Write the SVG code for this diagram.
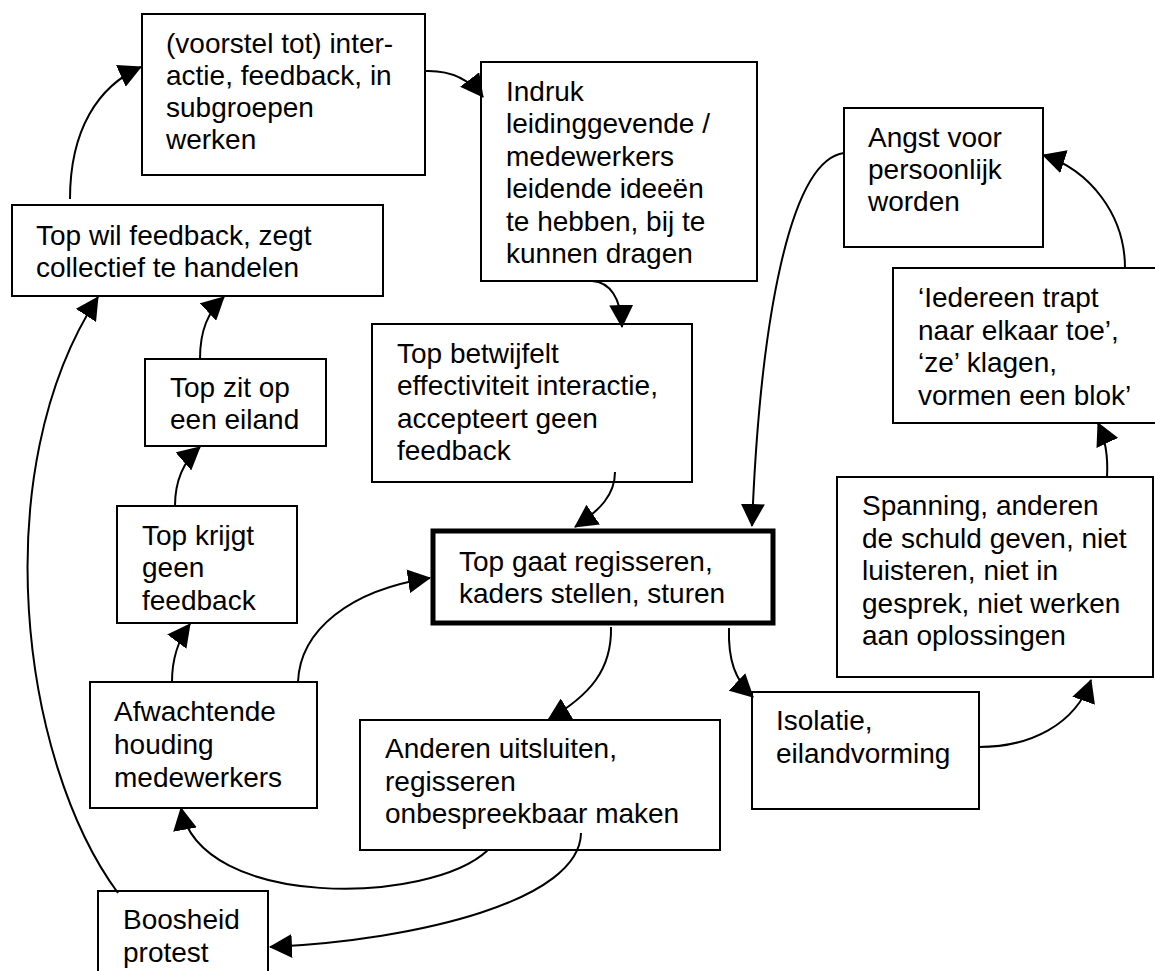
<svg xmlns="http://www.w3.org/2000/svg" width="1155" height="971" viewBox="0 0 1155 971">
<style>
.box{fill:#fff;stroke:#000;stroke-width:2}
.main{fill:#fff;stroke:#000;stroke-width:5}
.t{font-family:"Liberation Sans",Arial,Helvetica,sans-serif;font-size:28px;fill:#000}
.c{fill:none;stroke:#000;stroke-width:2;marker-end:url(#ah)}
</style>
<defs>
<marker id="ah" markerUnits="userSpaceOnUse" markerWidth="23" markerHeight="24" viewBox="0 0 23 24" refX="22" refY="12" orient="auto">
<path d="M0,0 L23,12 L0,24 z" fill="#000"/>
</marker>
</defs>
<rect width="1155" height="971" fill="#fff"/>
<g id="n-voorstel"><rect class="box" x="142" y="14" width="283" height="161"/>
<text class="t"><tspan x="166" y="53">(voorstel tot) inter-</tspan><tspan x="166" y="85">actie, feedback, in</tspan><tspan x="166" y="117">subgroepen</tspan><tspan x="166" y="149">werken</tspan></text></g>
<g id="n-topwil"><rect class="box" x="12" y="205" width="371" height="91"/>
<text class="t"><tspan x="36" y="245">Top wil feedback, zegt</tspan><tspan x="36" y="277">collectief te handelen</tspan></text></g>
<g id="n-indruk"><rect class="box" x="481" y="62" width="276" height="219"/>
<text class="t"><tspan x="506" y="101">Indruk</tspan><tspan x="506" y="133">leidinggevende /</tspan><tspan x="506" y="166">medewerkers</tspan><tspan x="506" y="198">leidende ideeën</tspan><tspan x="506" y="231">te hebben, bij te</tspan><tspan x="506" y="263">kunnen dragen</tspan></text></g>
<g id="n-angst"><rect class="box" x="844" y="108" width="199" height="139"/>
<text class="t"><tspan x="868" y="147">Angst voor</tspan><tspan x="868" y="179">persoonlijk</tspan><tspan x="868" y="211">worden</tspan></text></g>
<g id="n-iedereen"><rect class="box" x="893" y="268" width="270" height="155"/>
<text class="t"><tspan x="918" y="307">‘Iedereen trapt</tspan><tspan x="918" y="340">naar elkaar toe’,</tspan><tspan x="918" y="372">‘ze’ klagen,</tspan><tspan x="918" y="405">vormen een blok’</tspan></text></g>
<g id="n-betwijfelt"><rect class="box" x="372" y="324" width="320" height="158"/>
<text class="t"><tspan x="397" y="363">Top betwijfelt</tspan><tspan x="397" y="395">effectiviteit interactie,</tspan><tspan x="397" y="428">accepteert geen</tspan><tspan x="397" y="460">feedback</tspan></text></g>
<g id="n-eiland"><rect class="box" x="145" y="359" width="181" height="87"/>
<text class="t"><tspan x="170" y="397">Top zit op</tspan><tspan x="170" y="429">een eiland</tspan></text></g>
<g id="n-krijgt"><rect class="box" x="117" y="506" width="180" height="117"/>
<text class="t"><tspan x="142" y="545">Top krijgt</tspan><tspan x="142" y="577">geen</tspan><tspan x="142" y="610">feedback</tspan></text></g>
<g id="n-regisseren"><rect class="main" x="433" y="531" width="340" height="92"/>
<text class="t"><tspan x="459" y="571">Top gaat regisseren,</tspan><tspan x="459" y="603">kaders stellen, sturen</tspan></text></g>
<g id="n-spanning"><rect class="box" x="837" y="477" width="316" height="200"/>
<text class="t"><tspan x="862" y="515">Spanning, anderen</tspan><tspan x="862" y="548">de schuld geven, niet</tspan><tspan x="862" y="580">luisteren, niet in</tspan><tspan x="862" y="613">gesprek, niet werken</tspan><tspan x="862" y="645">aan oplossingen</tspan></text></g>
<g id="n-afwachtende"><rect class="box" x="90" y="682" width="227" height="126"/>
<text class="t"><tspan x="114" y="721">Afwachtende</tspan><tspan x="114" y="754">houding</tspan><tspan x="114" y="787">medewerkers</tspan></text></g>
<g id="n-uitsluiten"><rect class="box" x="360" y="720" width="360" height="130"/>
<text class="t"><tspan x="385" y="758">Anderen uitsluiten,</tspan><tspan x="385" y="791">regisseren</tspan><tspan x="385" y="823">onbespreekbaar maken</tspan></text></g>
<g id="n-boosheid"><rect class="box" x="98" y="891" width="170" height="95"/>
<text class="t"><tspan x="123" y="929">Boosheid</tspan><tspan x="123" y="962">protest</tspan></text></g>
<g id="n-isolatie"><rect class="box" x="752" y="692" width="227" height="117"/>
<text class="t"><tspan x="776" y="730">Isolatie,</tspan><tspan x="776" y="763">eilandvorming</tspan></text></g>
<g id="connectors">
<path class="c" d="M70,199 C70,130 98,86 141,67"/>
<path class="c" d="M425,71 C450,70 470,80 483,97"/>
<path class="c" d="M592,281 C610,282 621,298 622,327"/>
<path class="c" d="M615,472 C615,495 600,510 575,527"/>
<path class="c" d="M844,153 C790,160 760,320 752,526"/>
<path class="c" d="M1125,268 C1125,215 1090,170 1043,155"/>
<path class="c" d="M1107,477 C1108,460 1106,440 1098,423"/>
<path class="c" d="M979,747 C1030,747 1075,725 1091,680"/>
<path class="c" d="M729,628 C728,660 735,680 753,697"/>
<path class="c" d="M611,627 C612,670 590,695 548,720"/>
<path class="c" d="M581,833 C580,900 420,940 270,947"/>
<path class="c" d="M488,850 C430,905 200,910 181,808"/>
<path class="c" d="M298,682 C300,630 350,590 430,578"/>
<path class="c" d="M172,682 C172,660 178,640 190,624"/>
<path class="c" d="M175,506 C175,480 185,460 200,447"/>
<path class="c" d="M200,359 C200,330 208,312 224,297"/>
<path class="c" d="M118,893 C20,760 -15,470 98,297"/>
</g>
</svg>
